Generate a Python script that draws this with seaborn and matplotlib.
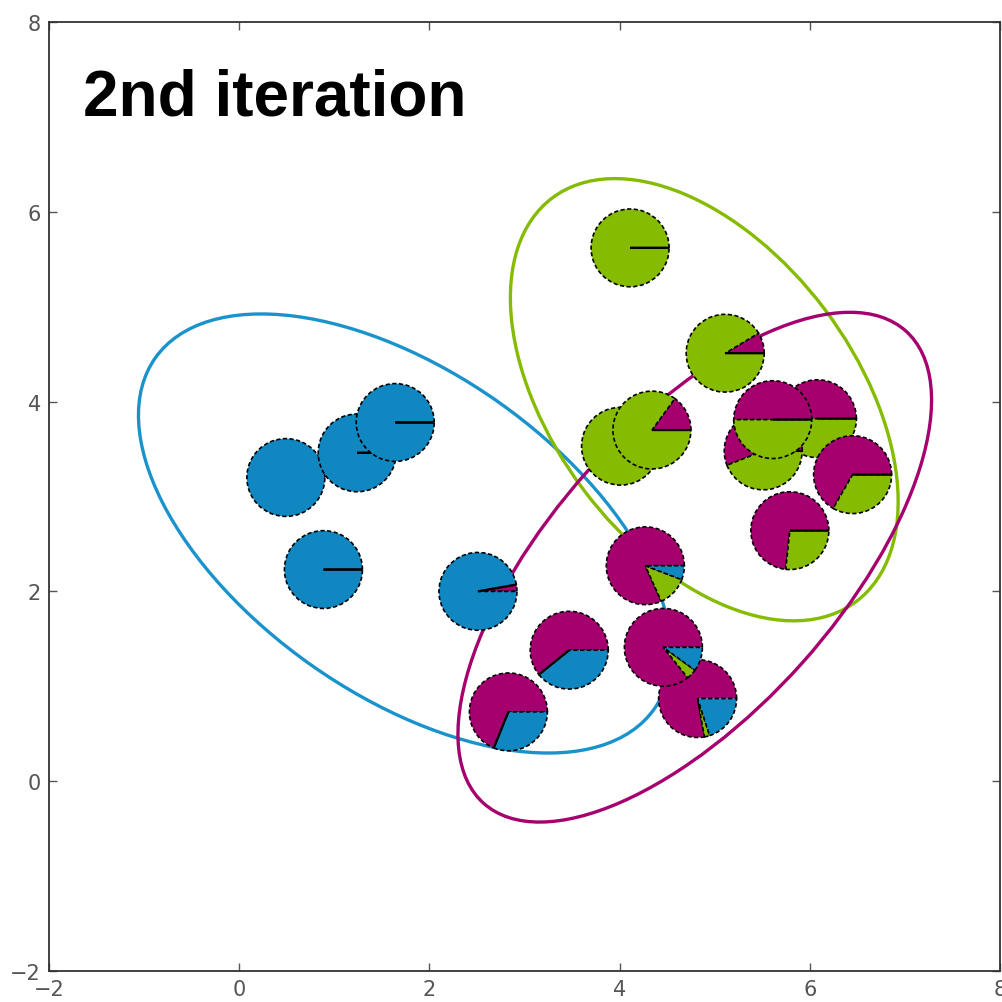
import matplotlib
matplotlib.use("Agg")
import matplotlib.pyplot as plt
from matplotlib.patches import Ellipse
import seaborn as sns

# pie centres (data units) and wedge fractions in draw order
pie_x = [0.49, 1.24, 1.64, 0.885, 2.51,
         4.11, 5.11, 4.01, 4.34, 6.08, 5.51, 5.61, 6.45, 5.79,
         4.27, 3.47, 4.82, 4.46, 2.83]
pie_y = [3.20, 3.46, 3.78, 2.23, 2.00,
         5.62, 4.51, 3.53, 3.70, 3.82, 3.48, 3.81, 3.23, 2.64,
         2.27, 1.38, 0.87, 1.41, 0.73]
frac_magenta = [0, 0, 0, 0, 0.028,
                0, 0.086, 0, 0.15, 0.5, 0.56, 0.5, 0.667, 0.733,
                0.817, 0.608, 0.778, 0.857, 0.689]
frac_green = [0, 0, 0, 0, 0,
              1, 0.914, 1, 0.85, 0.5, 0.44, 0.5, 0.333, 0.267,
              0.125, 0, 0.022, 0.043, 0]
frac_blue = [1, 1, 1, 1, 0.972,
             0, 0, 0, 0, 0, 0, 0, 0, 0,
             0.058, 0.392, 0.2, 0.1, 0.311]
# first blue pie shows no zero-wedge line
keep_zero = [False] + [True] * 18

# cluster ellipses: centre, width, height, angle
ell_x = [1.74, 4.89, 4.79]
ell_y = [2.61, 4.02, 2.255]
ell_w = [6.42, 5.32, 6.67]
ell_h = [3.40, 3.17, 3.03]
ell_angle = [-35.2, -53.1, 48.3]

blue = "#1187c1"
magenta = "#a6006f"
green = "#85bb00"
ell_colors = ["#1a93cc", green, magenta]

sns.set_style("white")
plt.rcParams["font.family"] = ["Liberation Sans Narrow", "DejaVu Sans"]

fig = plt.figure(figsize=(10.02, 10.03), dpi=100)
ax = fig.add_axes([0.049, 0.031, 0.949, 0.946])

for i in range(len(ell_x)):
    ax.add_patch(Ellipse((ell_x[i], ell_y[i]), ell_w[i], ell_h[i], angle=ell_angle[i],
                         fill=False, edgecolor=ell_colors[i], linewidth=2.4, zorder=1))

for i in range(len(pie_x)):
    vals = [frac_magenta[i], frac_green[i], frac_blue[i]]
    cols = [magenta, green, blue]
    if not keep_zero[i]:
        cols = [c for c, v in zip(cols, vals) if v > 0]
        vals = [v for v in vals if v > 0]
    wedges, _ = ax.pie(vals, colors=cols, center=(pie_x[i], pie_y[i]), radius=0.41,
                       startangle=0, counterclock=True, frame=True,
                       wedgeprops=dict(edgecolor="black", linewidth=1.2,
                                       linestyle=(0, (2.5, 1.5))))
    for w, v in zip(wedges, vals):
        w.set_zorder(2 + i)
        if v == 0:
            # empty cluster share shows as a solid spoke on top
            w.set_linestyle("-")
            w.set_linewidth(1.6)
            w.set_zorder(2.5 + i)

ax.set_aspect("auto")
ax.set_xlim(-2, 8)
ax.set_ylim(-2, 8)
ax.set_xticks([-2, 0, 2, 4, 6, 8])
ax.set_yticks([-2, 0, 2, 4, 6, 8])
ax.set_xticklabels(["\u22122", "0", "2", "4", "6", "8"])
ax.set_yticklabels(["\u22122", "0", "2", "4", "6", "8"])
ax.tick_params(direction="in", length=6, width=1, colors="#555555", labelsize=15,
               top=True, right=True, left=True, bottom=True, pad=6)
for s in ax.spines.values():
    s.set_color("#333333")
    s.set_linewidth(1.3)

ax.text(-1.64, 7.03, "2nd iteration", fontsize=46, fontweight="bold",
        family=["Liberation Sans", "DejaVu Sans"], color="black", zorder=50)

plt.savefig("out.png", dpi=100)
